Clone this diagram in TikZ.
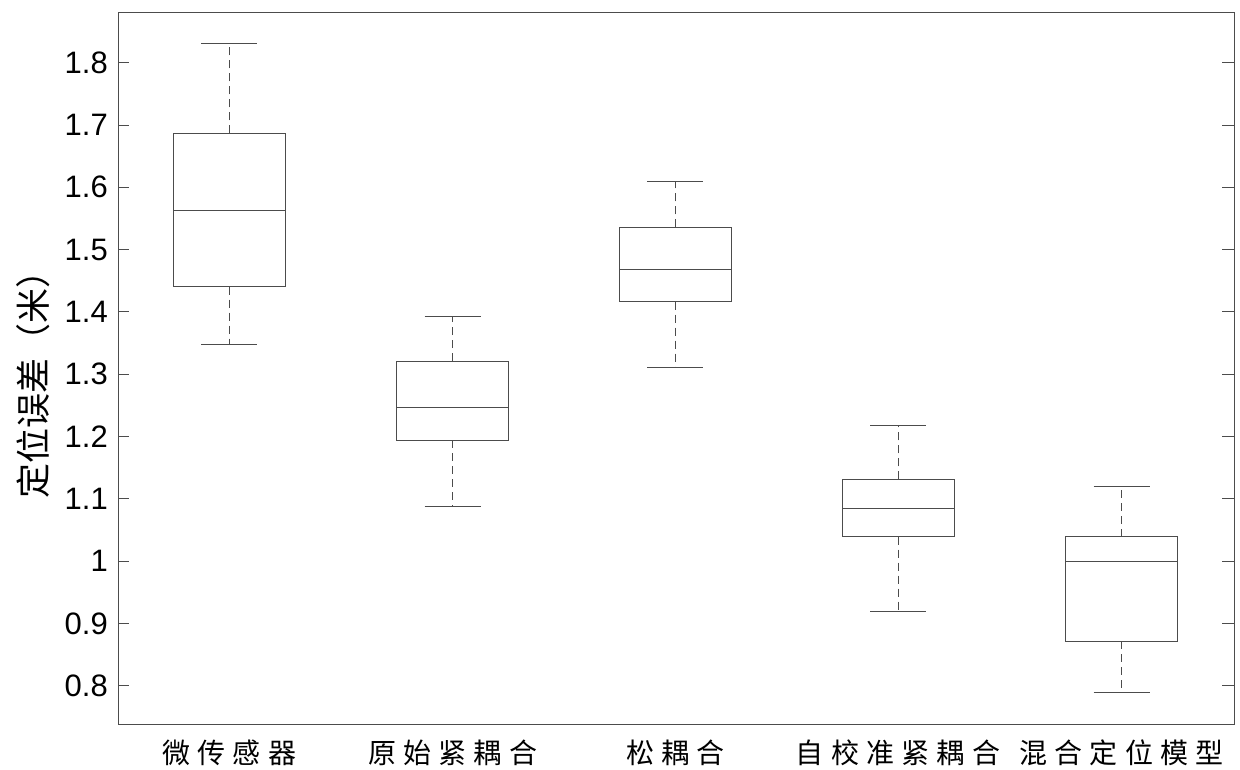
\documentclass[tikz,border=0pt]{standalone}
\usepackage{fontspec}
\setmainfont{Liberation Sans}
\newfontfamily\cjk{Noto Sans CJK SC}
\newfontfamily\cjksp[LetterSpace=26]{Noto Sans CJK SC}
\begin{document}
\begin{tikzpicture}[x=1pt,y=-1pt,
  plotline/.style={draw=black!70,line width=1pt},
  whisk/.style={draw=black!70,line width=1pt,dash pattern=on 8pt off 5pt},
  ticklab/.style={anchor=east,inner sep=0pt,font=\fontsize{31}{36}\selectfont},
  catlab/.style={anchor=center,inner sep=0pt,font=\cjksp\fontsize{28}{32}\selectfont}]
\useasboundingbox (0,0) rectangle (1240,769);
% axes frame
\draw[plotline] (118,12.5) rectangle (1234,724);
% ticks and tick labels
\foreach \k/\lab in {0/0.8,1/0.9,2/1,3/1.1,4/1.2,5/1.3,6/1.4,7/1.5,8/1.6,9/1.7,10/1.8}{
  \pgfmathsetmacro{\ty}{685.7-\k*62.3}
  \draw[plotline] (118,\ty) -- (129,\ty);
  \draw[plotline] (1234,\ty) -- (1222,\ty);
  \node[ticklab] (t\k) at (108,\ty) {\lab};
}
% boxplots: cx, whisker top, q3, median, q1, whisker bottom
\newcommand\bxp[7]{%
  \coordinate (#1wt) at (#2,#3);
  \coordinate (#1q3) at (#2,#4);
  \coordinate (#1q1) at (#2,#6);
  \coordinate (#1wb) at (#2,#7);
  \draw[plotline] (#2-56,#4) rectangle (#2+56,#6);
  \draw[plotline] (#2-56,#5) -- (#2+56,#5);
  \draw[whisk] (#1q3) -- (#1wt);
  \draw[whisk] (#1q1) -- (#1wb);
  \draw[plotline] (#2-28,#3) -- (#2+28,#3);
  \draw[plotline] (#2-28,#7) -- (#2+28,#7);
}
\bxp{a}{229.3}{43.3}{133.3}{210}{286.7}{344}
\bxp{b}{452.7}{316.7}{361}{407.3}{440}{506}
\bxp{c}{675.4}{181.7}{227.3}{269.3}{301.7}{367.7}
\bxp{d}{898}{425}{479.3}{508}{536.7}{611}
\bxp{e}{1121.5}{486.7}{536.7}{561.3}{641.3}{692.7}
% category labels
\node[catlab] (la) at (229.3,753) {微传感器};
\node[catlab] (lb) at (452.7,753) {原始紧耦合};
\node[catlab] (lc) at (675.4,753) {松耦合};
\node[catlab] (ld) at (898,753) {自校准紧耦合};
\node[catlab] (le) at (1121.5,753) {混合定位模型};
% y axis label
\node[rotate=90,inner sep=0pt,font=\cjk\fontsize{35}{40}\selectfont] (ylab) at (33,376) {定位误差（米）};
\end{tikzpicture}
\end{document}
